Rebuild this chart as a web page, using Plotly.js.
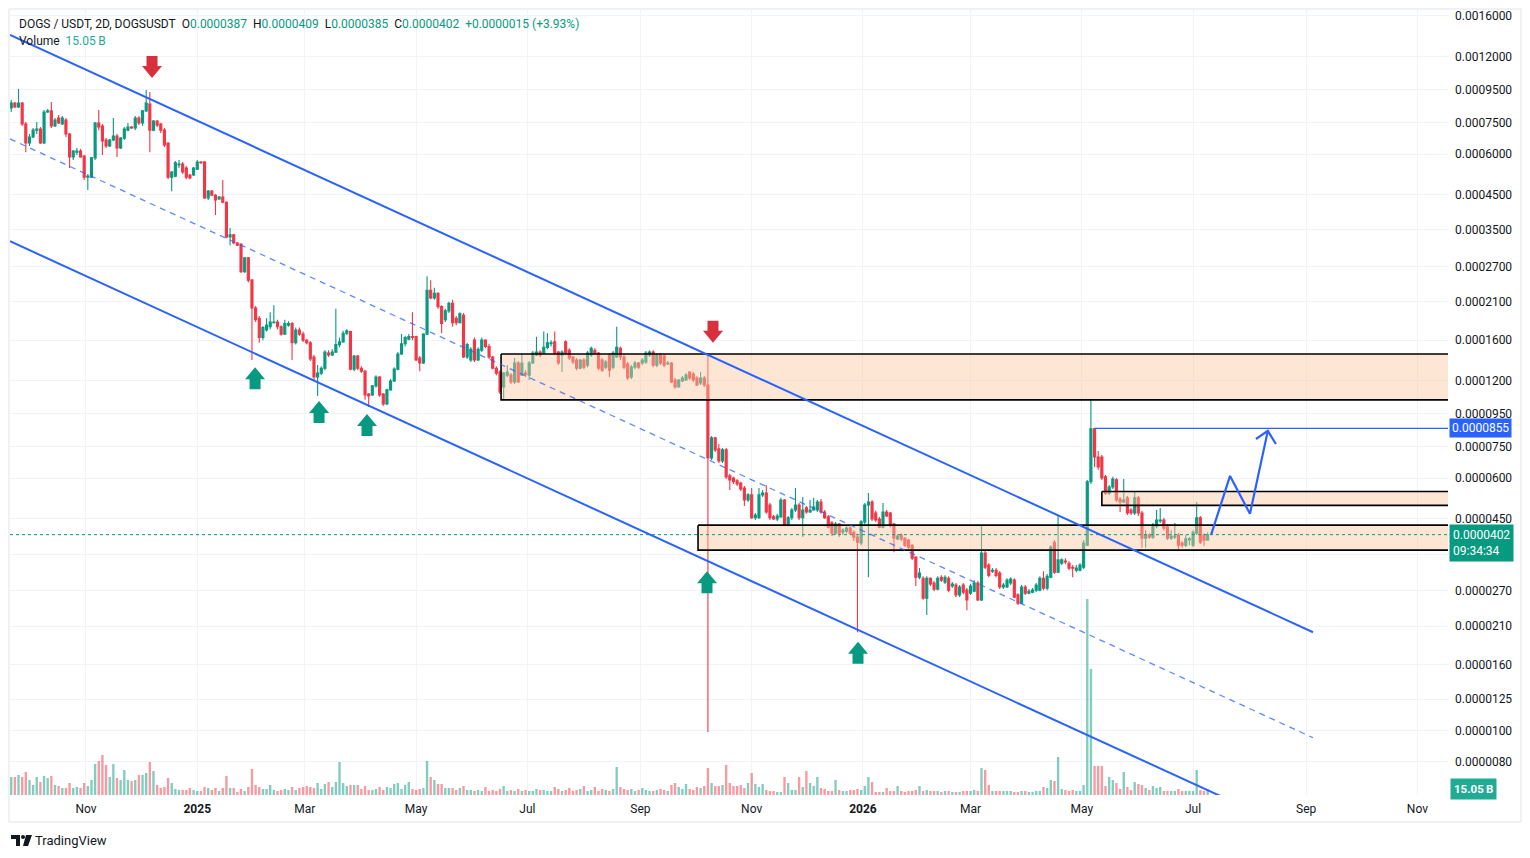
<!DOCTYPE html>
<html><head><meta charset="utf-8">
<script src="https://cdn.plot.ly/plotly-3.0.1.min.js"></script>
<style>html,body{margin:0;padding:0;background:#fff;} #chart{width:1530px;height:858px;}</style>
</head><body><div id="chart"></div>
<script>
// ---- DATA (prices in micro-USDT, volumes in billions) ----
const PRICE_UNIT = 1e-6;
const firstCandleDate = [2024, 8, 19];   // 2024-09-19, 2D candles
const candleStepDays = 2;

const openU = [
932,832,862,838,862,743,649,677,711,717,
649,809,815,732,775,743,764,692,588,608,
613,592,509,509,584,748,732,663,635,663,
682,626,672,711,727,722,775,748,815,856,
711,759,743,711,649,509,513,555,559,543,
517,517,539,567,567,439,461,448,436,442,
426,333,338,319,316,260,287,245,201,187,
163,172,176,181,182,176,167,178,180,157,
172,167,160,157,142,123.1,126.6,131.1,146,144,
147,155,158,168,170,130.2,143,131.1,128.4,109.2,
108.5,115.6,123.1,109.2,101.7,112.4,119.7,130.2,145,156,
161,164,164,141,136,167,228,216,223,203,
185,197,208,187,181,191,142,139,160,139,
149,160,153,142,131.1,127.5,114.8,124.8,124.8,118.8,
136,124.8,126.6,124.8,136,144,147,146,152,156,
158,147,144,158,149,142,139,131.1,139,134,
144,149,146,139,132.1,144,132.1,142,151,142,
135,123.1,132.1,136,136,137,144,147,134,144,
143,135,136,120.5,114.8,119.7,120.5,127.5,125.7,122.3,
118.0,122.3,116.3,69.3,79.9,73.9,67.8,73.4,61.0,60.1,
58.9,58.0,56.0,51.4,53.3,45.3,45.3,53.3,54.0,49.6,
45.6,44.9,45.6,51.4,43.0,45.3,47.9,49.6,45.3,48.6,
47.2,47.9,47.9,50.7,47.2,45.6,43.7,40.6,43.3,40.9,
41.2,42.1,40.9,39.5,37.9,44.0,49.6,50.7,46.9,44.9,
42.4,47.2,46.9,43.3,39.0,40.1,39.2,38.7,37.3,34.3,
29.7,29.5,25.6,29.5,28.5,27.3,29.7,28.7,29.5,27.9,
28.1,26.2,28.1,27.1,26.5,26.9,28.5,25.3,35.3,32.4,
31.0,31.2,30.6,27.7,27.7,28.5,29.1,26.2,24.7,27.7,
26.5,26.7,27.1,27.1,29.5,27.5,29.7,38.1,30.8,32.8,
33.3,32.8,31.9,31.2,31.2,31.9,37.3,58.5,85.2,69.8,
69.8,60.6,54.0,56.4,59.3,51.8,50.7,52.2,47.9,46.9,
52.2,46.9,39.2,40.1,39.5,42.7,44.3,44.6,42.4,39.2,
39.5,40.1,37.9,37.3,38.7,37.3,40.6,45.3,40.1,38.67
];
const highU = [
952,881,868,952,868,753,692,722,753,727,
820,826,868,775,792,786,775,697,617,626,
622,596,521,588,753,820,743,672,668,775,
692,677,727,748,732,786,786,820,946,932,
764,764,748,722,653,532,571,575,567,551,
521,547,575,571,571,465,465,452,445,499,
429,355,340,321,319,289,289,247,204,190,
177,187,195,205,185,178,185,183,182,175,
175,170,161,159,144,134,133,149,149,150,
200,163,171,173,171,144,144,133,129.3,110.0,
116.3,124.8,124.0,110.0,113.2,121.4,132.1,147,167,165,
167,195,165,143,168,252,245,232,225,205,
200,210,213,190,195,194,157,152,163,152,
163,161,156,143,133,129.3,127.5,134,126.6,141,
138,145,129.3,138,148,164,149,170,168,160,
170,148,149,160,151,143,141,140,141,148,
153,151,147,141,139,146,148,176,153,144,
137,134,138,137,141,148,149,149,146,146,
145,138,137,122.3,121.4,124.0,126.6,128.4,127.5,124.0,
127.5,124.0,146,81.0,80.4,76.5,74.4,74.4,61.9,60.6,
59.7,58.5,56.8,54.0,56.0,46.9,56.0,55.2,57.2,50.3,
46.2,46.6,52.2,51.8,45.9,48.6,56.0,50.3,52.5,49.3,
51.4,52.2,51.4,51.8,47.9,46.2,44.3,44.0,43.7,42.1,
42.7,42.7,41.5,40.1,44.6,50.3,54.0,51.4,47.6,45.6,
50.3,47.9,47.2,43.7,40.3,40.6,39.5,39.0,37.6,34.5,
31.7,29.9,29.9,29.7,28.9,29.9,30.1,30.1,29.9,28.7,
28.5,28.1,28.5,27.5,28.3,29.1,28.9,43.0,35.8,32.8,
31.7,31.7,31.0,28.5,29.5,29.7,29.5,26.5,28.1,28.1,
27.3,27.5,28.5,29.9,31.0,30.4,37.3,38.7,46.2,34.0,
34.0,33.3,32.4,32.4,32.8,38.7,59.3,104.7,85.8,72.8,
70.8,61.4,57.2,60.6,60.1,52.5,59.7,52.9,48.6,54.4,
52.9,47.6,41.5,40.6,43.7,47.9,48.6,45.3,43.3,41.5,
43.7,40.6,38.4,40.1,39.5,41.5,50.7,45.9,40.6,40.9
];
const lowU = [
803,809,832,832,732,608,635,672,692,644,
644,803,722,727,743,737,677,543,575,596,
584,499,465,506,575,711,596,626,631,658,
588,622,663,706,717,711,737,732,809,608,
706,727,697,631,502,461,509,543,521,502,
502,513,536,559,436,433,445,389,433,423,
330,314,316,312,258,258,241,139,182,157,
160,170,173,180,173,165,166,176,139,155,
165,158,155,138,119.7,107.7,124.8,129.3,142,143,
146,152,157,166,129.3,128.4,129.3,126.6,104.7,99.6,
107.7,114.0,106.9,100.3,101.0,111.6,118.8,129.3,144,153,
160,160,138,128.4,135,166,214,213,200,168,
182,194,176,178,180,141,140,137,137,138,
147,151,140,130.2,124.8,109.2,104.7,123.1,117.1,117.1,
118.0,124.0,123.1,120.5,135,143,142,145,150,153,
144,134,127.5,144,139,135,129.3,130.2,130.2,132.1,
142,144,129.3,127.5,130.2,123.1,130.2,141,139,130.2,
120.5,121.4,130.2,130.2,134,135,142,132.1,132.1,134,
132.1,134,118.0,113.2,114.0,118.8,119.7,120.5,118.8,115.6,
116.3,114.8,9.9,68.3,72.3,66.9,66.9,59.7,55.2,57.6,
56.8,54.8,49.3,50.7,44.9,44.6,44.9,52.5,46.6,44.6,
44.6,44.3,45.3,42.7,42.7,44.6,47.2,44.6,39.5,46.6,
46.9,47.6,47.2,46.6,44.9,42.1,39.8,40.1,39.5,40.1,
40.6,40.1,38.4,20.1,37.3,43.3,29.7,44.3,44.0,42.1,
42.1,45.6,42.4,35.5,38.7,38.4,36.8,36.3,33.6,27.9,
29.3,25.3,22.7,27.9,26.9,27.1,28.7,28.3,26.7,27.5,
25.8,25.8,26.3,23.5,26.2,26.7,25.1,25.1,31.5,29.7,
30.6,29.7,27.3,27.3,27.5,28.1,25.6,24.4,24.6,26.2,
26.3,26.5,26.7,26.9,27.1,27.1,29.5,30.4,30.6,32.4,
32.6,31.2,29.7,30.8,31.0,31.5,37.1,57.6,65.0,63.7,
59.3,53.3,53.3,55.6,50.7,47.2,50.3,46.2,46.2,46.2,
45.9,36.6,36.6,39.0,39.0,42.1,43.7,41.5,38.7,38.7,
39.0,36.3,36.6,36.8,37.3,36.8,40.1,37.6,37.1,38.5
];
const closeU = [
832,862,838,862,743,649,677,711,717,649,
809,815,732,764,748,775,692,588,613,613,
588,509,513,584,748,727,658,635,663,682,
626,672,717,727,722,775,748,815,862,711,
759,737,711,640,509,528,564,559,528,509,
506,543,567,564,439,461,448,433,442,426,
333,338,319,314,260,287,245,201,185,163,
175,178,182,182,176,167,180,180,157,172,
167,160,157,140,123.1,126.6,131.1,147,144,147,
155,158,168,171,130.2,143,131.1,128.4,108.5,107.7,
115.6,123.1,108.5,101.7,112.4,119.7,130.2,145,156,163,
164,163,139,136,167,228,216,223,203,180,
197,208,181,181,193,142,155,150,139,150,
160,153,142,131.1,126.6,110.8,126.6,127.5,118.8,136,
118.8,136,125.7,136,146,147,144,152,157,157,
146,136,147,146,141,137,131.1,139,132.1,146,
151,146,131.1,129.3,137,129.3,146,152,142,132.1,
122.3,132.1,136,132.1,139,146,147,134,144,136,
134,136,118.8,114.8,120.5,122.3,124.8,122.3,120.5,116.3,
122.3,116.3,69.3,79.9,73.4,67.8,73.4,60.6,59.3,58.5,
57.6,55.6,51.4,53.3,45.3,46.2,53.3,54.0,47.2,45.3,
44.9,45.9,51.4,43.0,45.3,47.9,49.6,45.3,47.9,47.2,
47.9,48.9,50.7,47.2,45.3,42.4,40.6,43.3,40.6,41.5,
42.1,40.6,39.5,38.1,44.0,49.6,50.7,44.9,44.6,42.4,
47.2,45.9,43.0,39.2,39.8,39.0,37.3,36.8,34.0,29.7,
30.6,25.6,29.5,28.3,27.3,29.5,29.1,29.7,27.1,28.3,
26.2,27.7,26.7,25.3,27.9,28.5,25.3,35.3,31.9,30.1,
31.2,30.1,27.7,28.1,29.1,29.3,25.8,24.7,27.7,26.5,
26.9,27.1,28.1,29.5,27.5,29.9,36.8,30.8,33.6,33.6,
33.1,31.7,31.7,31.7,32.4,37.9,58.5,85.2,69.8,65.0,
60.1,54.0,56.4,59.7,51.4,50.7,51.4,46.9,46.9,52.2,
46.9,39.2,40.1,39.5,43.0,44.6,44.6,42.1,39.2,39.8,
39.8,37.3,37.3,39.0,39.0,40.9,45.3,38.1,38.67,40.19
];
const volumeB = [
32.5,45,45,50,45,57.5,37.5,25,45,32.5,
47.5,42.5,47.5,25,22.5,17.5,17.5,30,17.5,20,
17.5,30,22.5,37.5,77.5,85,100,75,45,77.5,
42.5,37.5,62.5,37.5,35,37.5,50,50,55,82.5,
60,25,17.5,20,42.5,30,15,12.5,12.5,12.5,
17.5,12.5,10,10,20,17.5,12.5,17.5,10,17.5,
47.5,17.5,17.5,7.5,15,10,20,65,25,20,
15,15,25,12.5,10,12.5,15,12.5,20,12.5,
17.5,20,22.5,20,17.5,30,15,27.5,32.5,20,
32.5,82.5,30,22.5,25,25,25,15,22.5,12.5,
12.5,15,20,12.5,20,17.5,27.5,30,15,25,
32.5,15,12.5,15,17.5,85,45,37.5,27.5,27.5,
17.5,17.5,17.5,12.5,17.5,22.5,12.5,
12.5,10,12.5,10,20,10,12.5,10,15,22.5,
10,12.5,10,15,10,12.5,10,10,15,12.5,
12.5,10,10,20,15,10,12.5,17.5,10,12.5,
15,22.5,10,12.5,20,10,15,12.5,10,15,
70,
20,15,12.5,15,10,12.5,17.5,12.5,10,10,
12.5,15,12.5,10,25,30,20,15,27.5,15,
12.5,20,17.5,22.5,
67.5,
30,22.5,22.5,25,75,30,22.5,22.5,25,17.5,30,55,27.5,20,
27.5,12.5,10,10,7.5,7.5,
45,30,12.5,12.5,45,20,60,30,22.5,45,
17.5,15,10,10,37.5,12.5,10,10,12.5,12.5,
15,12.5,22.5,45,32.5,7.5,7.5,7.5,17.5,10,
10,22.5,10,7.5,10,10,12.5,22.5,10,12.5,
10,10,10,7.5,10,10,7.5,7.5,7.5,10,
10,10,12.5,10,
67.5,62.5,25,10,10,10,10,10,10,7.5,
7.5,10,10,7.5,7.5,10,10,20,17.5,37.5,
35,95,15,12.5,10,12.5,10,10,25,490,
315,72.5,72.5,72.5,22.5,45,37.5,30,15,57.5,
20,12.5,32.5,27.5,25,17.5,12.5,22.5,17.5,20,
10,10,10,10,15,10,10,10,10,62.5,
12.5,10,15.05
];

// Price axis tick labels (the 0.0000350 label sits under the live-price tag, so it has no text)
const priceTicks = [0.0016,0.0012,0.00095,0.00075,0.0006,0.00045,0.00035,0.00027,0.00021,0.00016,0.00012,
  0.000095,0.000075,0.00006,0.000045,0.000035,0.000027,0.000021,0.000016,0.0000125,0.00001,0.000008];
const hiddenPriceTick = 0.000035;
// Time axis tick labels
const timeTickDates = ['2024-11-01','2025-01-01','2025-03-01','2025-05-01','2025-07-01','2025-09-01','2025-11-01',
  '2026-01-01','2026-03-01','2026-05-01','2026-07-01','2026-09-01','2026-11-01'];
const timeTickText = ['Nov','<b>2025</b>','Mar','May','Jul','Sep','Nov','<b>2026</b>','Mar','May','Jul','Sep','Nov'];

// Drawings (date, price in micro-USDT)
const channelDates = ['2024-09-20 08:00','2026-09-04 19:00'];
const upperChannelU = [1398, 20.1];
const lowerChannelU = [323, 4.645];
const midChannelU = [668, 9.5];
const forecastDates = ['2026-07-10 22:00','2026-07-21 07:00','2026-08-01 05:00','2026-08-11 00:00'];
const forecastU = [40.19, 61.0, 46.6, 84.0];
const forecastHeadDates = ['2026-08-04 12:00','2026-08-11 00:00','2026-08-15 10:00'];
const forecastHeadU = [79.3, 84.0, 76.5];
const targetLineStart = '2026-05-07 19:00';
const targetU = 85.5;
const zoneLeftDates = ['2025-06-16 14:00','2025-10-02 14:00','2026-05-12 00:00'];
const zoneTopU = [145, 43.0, 54.6];
const zoneBottomU = [104.7, 36.0, 49.5];
const zoneRightDate = '2027-03-01';
const downArrowDates = ['2024-12-07 05:00','2025-10-10 19:00'];
const downArrowU = [1030, 157];
const upArrowDates = ['2025-02-01 17:00','2025-03-08 19:00','2025-04-04 02:00','2025-10-07 12:00','2025-12-29 07:00'];
const upArrowU = [132, 103.9, 94.7, 31.0, 18.8];
const countdownText = '09:34:34';

// ---- BUILD ----
const n = closeU.length;
const lens = [openU.length, highU.length, lowU.length, closeU.length, volumeB.length];
if (lens.some(l => l !== n)) throw new Error('length mismatch ' + lens.join(','));

const P = v => v * PRICE_UNIT;
const dates = [];
const t0 = Date.UTC(firstCandleDate[0], firstCandleDate[1], firstCandleDate[2]);
for (let i = 0; i < n; i++) dates.push(new Date(t0 + i * candleStepDays * 86400000).toISOString().slice(0, 10));

const UP = '#089981', DOWN = '#F23645', BLUE = '#2962ff';
const xRange = ['2024-09-20 08:00', '2026-11-17 19:00'];

const traces = [];
// volume (base axis, drawn underneath)
traces.push({
  type: 'bar', x: dates, y: volumeB, xaxis: 'x', yaxis: 'y',
  marker: {color: closeU.map((c, i) => c >= openU[i] ? 'rgba(8,153,129,0.5)' : 'rgba(242,54,69,0.5)'), line: {width: 0}},
  hoverinfo: 'skip', showlegend: false
});
// zones
for (let k = 0; k < zoneLeftDates.length; k++) {
  traces.push({
    type: 'scatter', mode: 'lines', xaxis: 'x', yaxis: 'y2',
    x: [zoneLeftDates[k], zoneRightDate, zoneRightDate, zoneLeftDates[k], zoneLeftDates[k]],
    y: [P(zoneTopU[k]), P(zoneTopU[k]), P(zoneBottomU[k]), P(zoneBottomU[k]), P(zoneTopU[k])],
    fill: 'toself', fillcolor: 'rgba(250,200,160,0.45)', line: {color: '#000', width: 1.6},
    hoverinfo: 'skip', showlegend: false
  });
}
// candles
traces.push({
  type: 'candlestick', x: dates, open: openU.map(P), high: highU.map(P), low: lowU.map(P), close: closeU.map(P),
  xaxis: 'x', yaxis: 'y2',
  increasing: {line: {color: UP, width: 1.1}, fillcolor: UP},
  decreasing: {line: {color: DOWN, width: 1.1}, fillcolor: DOWN},
  whiskerwidth: 0, hoverinfo: 'skip', showlegend: false
});
// current price dotted line
traces.push({type: 'scatter', mode: 'lines', xaxis: 'x', yaxis: 'y2', x: xRange, y: [P(closeU[n-1]), P(closeU[n-1])],
  line: {color: UP, width: 1, dash: 'dot'}, hoverinfo: 'skip', showlegend: false});
// channel
traces.push({type: 'scatter', mode: 'lines', xaxis: 'x', yaxis: 'y2', x: channelDates, y: upperChannelU.map(P),
  line: {color: BLUE, width: 2}, hoverinfo: 'skip', showlegend: false});
traces.push({type: 'scatter', mode: 'lines', xaxis: 'x', yaxis: 'y2', x: channelDates, y: lowerChannelU.map(P),
  line: {color: BLUE, width: 2}, hoverinfo: 'skip', showlegend: false});
traces.push({type: 'scatter', mode: 'lines', xaxis: 'x', yaxis: 'y2', x: channelDates, y: midChannelU.map(P),
  line: {color: 'rgba(41,98,255,0.75)', width: 1.3, dash: '6px,5px'}, hoverinfo: 'skip', showlegend: false});
// target line
traces.push({type: 'scatter', mode: 'lines', xaxis: 'x', yaxis: 'y2', x: [targetLineStart, zoneRightDate], y: [P(targetU), P(targetU)],
  line: {color: BLUE, width: 1.2}, hoverinfo: 'skip', showlegend: false});
// forecast path
traces.push({type: 'scatter', mode: 'lines', xaxis: 'x', yaxis: 'y2', x: forecastDates, y: forecastU.map(P),
  line: {color: BLUE, width: 2.2}, hoverinfo: 'skip', showlegend: false});
traces.push({type: 'scatter', mode: 'lines', xaxis: 'x', yaxis: 'y2', x: forecastHeadDates, y: forecastHeadU.map(P),
  line: {color: BLUE, width: 2.2}, hoverinfo: 'skip', showlegend: false});

// arrow markers (pixel-sized shapes anchored at data points)
const upPath = 'M0,0 L10,-12 L5.5,-12 L5.5,-22 L-5.5,-22 L-5.5,-12 L-10,-12 Z';
const downPath = 'M0,0 L10,12 L5.5,12 L5.5,22 L-5.5,22 L-5.5,12 L-10,12 Z';
const shapes = [];
upArrowDates.forEach((d, i) => shapes.push({type: 'path', xref: 'x', yref: 'y2', xsizemode: 'pixel', ysizemode: 'pixel',
  xanchor: d, yanchor: P(upArrowU[i]), path: upPath, fillcolor: UP, line: {width: 0}, layer: 'above'}));
downArrowDates.forEach((d, i) => shapes.push({type: 'path', xref: 'x', yref: 'y2', xsizemode: 'pixel', ysizemode: 'pixel',
  xanchor: d, yanchor: P(downArrowU[i]), path: downPath, fillcolor: '#d9303e', line: {width: 0}, layer: 'above'}));
// outer frame
shapes.push({type: 'rect', xref: 'paper', yref: 'paper', x0: -1/1438, x1: 1511/1438, y0: -27/785, y1: 786/785,
  line: {color: '#e0e3eb', width: 1}, fillcolor: 'rgba(0,0,0,0)', layer: 'below'});
// TradingView logo
shapes.push({type: 'path', xref: 'paper', yref: 'paper', xsizemode: 'pixel', ysizemode: 'pixel', xanchor: 0, yanchor: 0,
  path: 'M1,-40 L10,-40 L10,-51 L6,-51 L6,-44 L1,-44 Z', fillcolor: '#131722', line: {width: 0}});
shapes.push({type: 'circle', xref: 'paper', yref: 'paper', xsizemode: 'pixel', ysizemode: 'pixel', xanchor: 0, yanchor: 0,
  x0: 11, x1: 15, y0: -40, y1: -44, fillcolor: '#131722', line: {width: 0}});
shapes.push({type: 'path', xref: 'paper', yref: 'paper', xsizemode: 'pixel', ysizemode: 'pixel', xanchor: 0, yanchor: 0,
  path: 'M16,-40 L22,-40 L18,-51 L13,-51 Z', fillcolor: '#131722', line: {width: 0}});

const fmt = v => P(v).toFixed(7);
const G = s => `<span style="color:${UP}">${s}</span>`;
const last = n - 1;
const chg = closeU[last] - closeU[last - 1];
const pct = chg / closeU[last - 1] * 100;
const sp = '\u00a0\u00a0';
const header = `DOGS / USDT, 2D, DOGSUSDT${sp}O${G(fmt(openU[last]))}${sp}H${G(fmt(highU[last]))}${sp}L${G(fmt(lowU[last]))}${sp}C${G(fmt(closeU[last]))}${sp}${G((chg >= 0 ? '+' : '') + fmt(chg) + ' (' + (pct >= 0 ? '+' : '') + pct.toFixed(2) + '%)')}`;
const volText = volumeB[last].toFixed(2) + '\u2009B';

const annotations = [
  {xref: 'paper', yref: 'paper', x: 0, y: 1, xshift: 7, yshift: -14, xanchor: 'left', yanchor: 'middle', showarrow: false,
   text: header, font: {size: 12, color: '#131722'}},
  {xref: 'paper', yref: 'paper', x: 0, y: 1, xshift: 7, yshift: -31, xanchor: 'left', yanchor: 'middle', showarrow: false,
   text: 'Volume' + sp + `<span style="color:#22ab94">${volText}</span>`, font: {size: 12, color: '#131722'}},
  {xref: 'paper', yref: 'y2', x: 1, y: Math.log10(P(targetU)), xanchor: 'left', yanchor: 'middle', xshift: 1, showarrow: false,
   text: fmt(targetU), bgcolor: BLUE, borderpad: 2, font: {size: 12, color: '#fff'}},
  {xref: 'paper', yref: 'y2', x: 1, y: Math.log10(P(closeU[last])), xanchor: 'left', yanchor: 'top', yshift: 11, xshift: 1, showarrow: false,
   text: fmt(closeU[last]) + '<br>' + countdownText, align: 'left', bgcolor: UP, borderpad: 3, font: {size: 12, color: '#fff'}},
  {xref: 'paper', yref: 'y', x: 1, y: volumeB[last], xanchor: 'left', yanchor: 'middle', xshift: 2, showarrow: false,
   text: '<b>' + volText + '</b>', bgcolor: '#22ab94', borderpad: 3, font: {size: 11.5, color: '#fff'}},
  {xref: 'paper', yref: 'paper', x: 0, y: 0, xshift: 23, yshift: -45, xanchor: 'left', yanchor: 'middle', showarrow: false,
   text: 'TradingView', font: {size: 13, color: '#131722'}}
];

const layout = {
  width: 1530, height: 858, margin: {l: 10, r: 82, t: 10, b: 63},
  paper_bgcolor: '#fff', plot_bgcolor: '#fff',
  font: {family: 'Roboto, "Noto Sans", sans-serif', size: 12, color: '#131722'},
  showlegend: false, bargap: 0.35, boxgap: 0.2, hovermode: false, dragmode: false,
  xaxis: {type: 'date', range: xRange, tickvals: timeTickDates, ticktext: timeTickText, showgrid: true, gridcolor: '#f0f3fa',
    zeroline: false, showline: false, ticks: '', ticklabelstandoff: 5, rangeslider: {visible: false}, fixedrange: true,
    tickfont: {size: 12, color: '#131722'}},
  yaxis: {range: [0, 1962.5], visible: false, fixedrange: true, showgrid: false, zeroline: false},
  yaxis2: {type: 'log', overlaying: 'y', side: 'right', anchor: 'x',
    range: [Math.log10(6.326e-6), Math.log10(1.669e-3)],
    tickvals: priceTicks, ticktext: priceTicks.map(v => v === hiddenPriceTick ? '' : v.toFixed(7)),
    showgrid: true, gridcolor: '#f0f3fa', zeroline: false, showline: false, ticks: '', ticklabelstandoff: 6,
    tickfont: {size: 12, color: '#131722'}, fixedrange: true},
  shapes: shapes, annotations: annotations
};

Plotly.newPlot('chart', traces, layout, {displayModeBar: false, staticPlot: true});
</script>
</body></html>
